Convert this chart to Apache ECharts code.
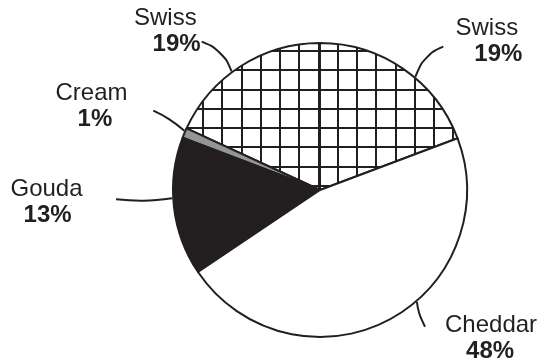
<!DOCTYPE html>
<html>
<head>
<meta charset="utf-8">
<script src="https://cdn.jsdelivr.net/npm/echarts@6/dist/echarts.min.js"></script>
<style>
html,body{margin:0;padding:0;background:#fff;}
#chart{width:541px;height:361px;}
</style>
</head>
<body>
<div id="chart"></div>
<script>
// ---- data ----
const categories = ['Swiss', 'Swiss', 'Cream', 'Gouda', 'Cheddar'];
// shares as drawn (angles)
const values = [19.3, 18.1, 1.1, 15.2, 46.3];
// percentage texts printed on the chart
const percentLabels = ['19%', '19%', '1%', '13%', '48%'];

// ---- layout / style ----
const CX = 320, CY = 190, R = 147;
const INK = '#231f20';
// label block: left x, vertical centre, left offset of the percent line
const labelPos = [
  [455.5, 41.7, 18.8],
  [134, 31.7, 18.6],
  [55.5, 105.9, 22.1],
  [10.5, 202, 13.1],
  [445, 337.9, 21.1]
];
// leader lines: angle where the line meets the rim, then its other points
const leader = [
  [49.9, [[424.5, 55], [443.3, 46.7]]],
  [126.7, [[222.9, 50.5], [201.7, 41.7]]],
  [156.4, [[170, 118.3], [153.3, 110.7], [136.7, 109.3]]],
  [183.2, [[143.3, 202.3], [116, 199.3]]],
  [-49.1, [[418.3, 313.3], [425, 326.7], [440.7, 337.3]]]
];

// cross-hatch tile
function hatch() {
  const c = document.createElement('canvas');
  c.width = 77; c.height = 77;
  const g = c.getContext('2d');
  g.fillStyle = '#fff';
  g.fillRect(0, 0, 77, 77);
  g.fillStyle = INK;
  for (let k = 0; k < 4; k++) {
    const x = Math.round(10.5 + 19.25 * k) - 1;
    const y = Math.round(12.5 + 19.25 * k) - 1;
    g.fillRect(x, 0, 2, 77);
    g.fillRect(0, y, 77, 2);
  }
  return c;
}
const hatchFill = { image: hatch(), repeat: 'repeat' };
const fills = [hatchFill, hatchFill, '#939598', INK, '#ffffff'];

const rich = { n: { fontWeight: 'normal', lineHeight: 26 } };
labelPos.forEach((p, i) => {
  rich['p' + i] = { fontWeight: 'bold', lineHeight: 26, padding: [0, 0, 0, p[2]] };
});

const chart = echarts.init(document.getElementById('chart'), null, { renderer: 'canvas' });
chart.setOption({
  animation: false,
  backgroundColor: '#fff',
  series: [{
    type: 'pie',
    center: [CX, CY],
    radius: [0, R],
    startAngle: 20.6,
    clockwise: false,
    avoidLabelOverlap: false,
    silent: true,
    itemStyle: { borderColor: INK, borderWidth: 2 },
    label: {
      show: true,
      position: 'outside',
      color: INK,
      fontFamily: 'Liberation Sans, Arial, Helvetica, sans-serif',
      fontSize: 24,
      lineHeight: 26,
      rich: rich,
      formatter: p => '{n|' + categories[p.dataIndex] + '}\n{p' + p.dataIndex + '|' + percentLabels[p.dataIndex] + '}'
    },
    labelLine: { show: true, smooth: 0.45, lineStyle: { color: INK, width: 2 } },
    labelLayout: function (params) {
      const i = params.dataIndex;
      const lp = labelPos[i];
      const a = leader[i][0] * Math.PI / 180;
      const start = [CX + (R + 1) * Math.cos(a), CY - (R + 1) * Math.sin(a)];
      return {
        x: lp[0], y: lp[1], align: 'left', verticalAlign: 'middle',
        labelLinePoints: [start].concat(leader[i][1])
      };
    },
    data: categories.map((c, i) => ({ name: c, value: values[i], itemStyle: { color: fills[i] } }))
  }]
});
</script>
</body>
</html>
